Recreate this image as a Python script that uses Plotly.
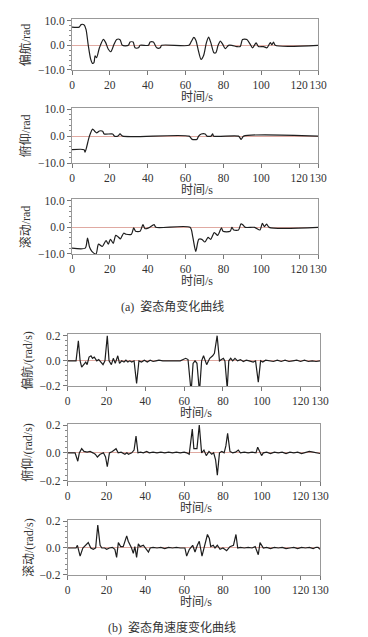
import plotly.graph_objects as go

# ---------------- data ----------------
# (a) attitude angles, rad
yaw_t = [0, 3.8, 4.8, 6.3, 7.4, 8.6, 9.9, 10.8, 11.6, 12.2, 13.0, 14.5, 16.6, 17.8, 19.2, 20.5,
         22.2, 23.6, 25.4, 26.6, 29.8, 30.7, 32.3, 33.3, 35.1, 36.0, 40.4, 41.3, 43.0, 44.8,
         46.6, 47.4, 61.8, 63.0, 64.4, 65.5, 66.6, 68.2, 69.6, 71.0, 72.2, 73.4, 75.0, 76.0,
         77.2, 78.4, 79.6, 81.0, 82.7, 84.5, 87.1, 88.9, 90.1, 92.4, 94.2, 95.4, 97.3, 98.5,
         101.2, 103.0, 104.8, 105.6, 106.5, 107.4, 130]
yaw_v = [7.4, 7.4, 8.4, 8.4, 6.5, 0, -5.7, -7.3, -7.0, -4.3, -5.0, -1.0, 2.4, 1.1, -1.6, -2.6,
         0.4, 2.4, 2.3, 0, 0, 1.35, 1.35, -1.0, -1.0, 0, 0, 1.35, 1.35, -1.0,
         -1.0, 0, 0, 1.5, 3.2, 2.0, -1.5, -5.7, -4.0, 1.0, 3.3, 1.0, -3.0, -3.0,
         0, 1.75, 0.5, -1.35, 0, 0, -0.5, -0.5, 2.4, 2.4, 0.4, -1.0, 1.0, -0.5,
         -0.5, -1.0, 1.1, 0.2, 1.35, 0, 0]

pitch_t = [0, 6.4, 6.9, 9.2, 10.9, 12.0, 13.0, 14.5, 16.2, 17.0, 21.5, 22.4, 24.2, 25.4, 26.8,
           61.9, 63.5, 66.0, 66.9, 68.3, 70.4, 71.3, 73.5, 74.3, 74.9, 88.0, 89.4, 90.7, 130]
pitch_v = [-5, -5, -5.9, 0, 2.6, 1.8, 1.2, 1.9, 1.8, 0.8, 0.8, 0, 0, 0.8, 0,
           0, -1.2, -1.2, 0, 0.8, 0.8, 0, 0, 0.8, 0, 0, -1.2, 0, 0]

roll_t = [0, 7.0, 8.2, 9.3, 10.5, 12.7, 14.0, 16.0, 18.0, 19.2, 20.3, 21.8, 23.1, 24.3, 25.6,
          27.3, 28.6, 31.4, 32.6, 33.6, 36.0, 37.5, 38.6, 40.5, 43.4, 44.3, 62.4, 63.8, 65.4,
          67.0, 68.6, 70.2, 71.9, 73.3, 75.2, 77.0, 79.0, 79.8, 83.6, 84.5, 85.5, 88.0, 89.3,
          90.5, 91.6, 96.5, 99.3, 100.6, 101.7, 102.8, 104.2, 130]
roll_v = [-7.8, -7.8, -4.0, -7.5, -9.0, -10.0, -6.3, -7.2, -5.0, -6.3, -4.5, -6.0, -3.0, -3.5, -4.3,
          -2.2, -2.6, -2.6, -0.2, -1.5, -1.5, 1.0, -0.5, -0.2, 1.0, 0, 0, -3.5, -9.0,
          -4.5, -4.5, -5.5, -3.8, -4.5, -2.0, -3.0, -0.2, -1.5, -1.5, 0, -1.0, -1.0, 1.3,
          0.8, 0, 0, -1.0, 1.5, 0.3, 1.2, 0, 0]

# (b) attitude angular rates, rad/s
yawr_t = [0, 4.3, 5.5, 6.4, 7.2, 8.2, 9.3, 10.0, 11.0, 12.0, 12.8, 13.7, 15.0, 16.0, 17.0, 18.2,
          19.2, 20.4, 21.3, 22.5, 23.5, 24.5, 25.8, 26.7, 27.8, 29.0, 30.0, 31.0, 32.0, 33.0,
          34.2, 35.5, 36.7, 38.0, 39.5, 41.0, 42.5, 44.0, 45.5, 47.0, 49.0, 52.0, 55.0, 58.0,
          60.8, 62.0, 63.6, 64.6, 65.6, 66.6, 67.9, 69.0, 70.0, 71.6, 73.2, 74.7, 75.6, 77.0,
          78.2, 79.2, 80.2, 81.0, 82.2, 83.0, 84.0, 85.0, 86.2, 87.5, 89.0, 90.5, 92.0, 93.5,
          95.6, 96.8, 98.2, 99.4, 100.5, 102.0, 104.0, 106.0, 108.0, 110.0, 112.0, 114.0, 116.0,
          118.0, 120.0, 122.0, 124.0, 126.0, 128.0, 130.0]
yawr_v = [0, 0, 0.16, 0.0, -0.05, -0.03, -0.01, -0.03, 0.03, 0.04, 0.02, 0.03, 0.0, 0.01, -0.01, -0.03,
          0.0, 0.2, 0.0, -0.03, 0.02, -0.02, 0.04, -0.02, 0.0, -0.01, 0.005, -0.01, 0.0, -0.01,
          0.0, -0.18, 0.0, -0.01, 0.005, -0.01, 0.005, -0.005, 0.0, 0.005, 0.0, 0.0, 0.0, 0.0,
          0.02, 0.01, -0.25, -0.02, 0.0, -0.02, -0.25, 0.0, 0.04, -0.03, 0.02, 0.04, 0.06, 0.2,
          0.0, 0.01, 0.02, 0.0, -0.22, 0.0, 0.02, 0.0, 0.02, 0.0, 0.01, -0.005, 0.005, 0.0,
          -0.01, 0.0, -0.17, 0.0, -0.01, 0.005, 0.0, -0.005, 0.005, -0.005, 0.005, -0.005, 0.0,
          0.005, -0.005, 0.005, -0.005, 0.0, -0.005, 0.0]

pitchr_t = [0, 3.8, 5.2, 6.0, 7.2, 8.4, 10.0, 11.5, 13.0, 14.2, 15.3, 16.7, 18.4, 19.5, 20.4, 21.5,
            23.0, 24.9, 26.0, 27.5, 29.5, 30.5, 31.3, 33.0, 34.2, 35.2, 36.2, 37.5, 39.0, 40.7,
            42.0, 44.0, 46.0, 48.0, 50.0, 52.0, 54.0, 56.0, 58.0, 60.0, 61.3, 62.6, 64.2, 65.0,
            66.6, 67.8, 69.0, 70.2, 71.4, 72.8, 74.2, 75.2, 76.2, 77.1, 78.2, 79.4, 80.6, 81.5,
            82.4, 83.6, 85.0, 86.5, 87.9, 89.0, 91.0, 93.0, 95.0, 97.0, 97.9, 98.8, 99.9, 100.8,
            102.5, 104.5, 106.5, 108.5, 110.5, 112.5, 114.5, 116.5, 118.5, 120.5, 122.5, 124.5,
            126.5, 128.0, 130.0]
pitchr_v = [0, 0, -0.06, 0.0, 0.03, 0.01, 0.005, 0.01, 0.0, -0.01, -0.03, -0.01, 0.0, -0.03, -0.1, 0.0,
            0.01, 0.03, 0.0, 0.005, -0.01, 0.0, -0.01, 0.0, 0.02, 0.12, 0.0, 0.005, 0.0, 0.01,
            0.0, 0.005, 0.0, 0.005, 0.0, 0.005, 0.0, 0.005, 0.0, 0.005, 0.0, -0.01, 0.17, 0.03,
            0.03, 0.2, 0.0, 0.02, -0.02, 0.01, -0.01, 0.0, -0.05, -0.16, 0.0, 0.01, 0.0, 0.05,
            0.14, 0.01, 0.0, 0.005, 0.02, 0.0, 0.005, 0.0, 0.005, 0.0, 0.04, 0.01, -0.02, 0.0,
            0.005, -0.005, 0.005, 0.0, 0.005, -0.005, 0.005, 0.0, 0.005, -0.005, 0.005, 0.01,
            0.005, 0.0, -0.005]

rollr_t = [0, 4.3, 5.0, 6.4, 7.8, 9.4, 10.6, 11.9, 13.2, 14.4, 15.5, 16.7, 17.6, 19.0, 20.1, 21.5,
           23.0, 24.3, 25.2, 26.1, 27.3, 28.6, 30.4, 31.2, 32.9, 33.8, 34.6, 35.5, 36.4, 37.3,
           39.0, 40.0, 41.6, 42.5, 44.0, 46.0, 48.0, 50.0, 52.0, 54.0, 56.0, 58.0, 60.4, 61.3,
           62.7, 64.4, 65.6, 66.8, 67.8, 69.2, 70.3, 72.0, 73.0, 73.7, 75.0, 75.9, 77.1, 78.5,
           80.0, 81.9, 83.6, 85.4, 86.7, 87.6, 89.0, 91.0, 93.0, 95.0, 96.6, 98.2, 99.1, 100.8,
           102.5, 104.5, 106.5, 108.5, 110.5, 112.5, 114.5, 116.5, 118.5, 120.5, 122.5, 124.5,
           126.5, 128.0, 129.0, 130.0]
rollr_v = [0, 0, 0.02, -0.06, 0.0, 0.02, 0.04, 0.0, -0.01, 0.0, 0.17, 0.02, 0.0, 0.0, -0.01, 0.0,
           0.005, -0.01, -0.07, 0.04, 0.01, 0.01, 0.09, 0.05, 0.0, -0.04, 0.01, -0.07, 0.03, 0.01,
           0.02, 0.0, -0.03, 0.0, 0.005, 0.0, 0.005, -0.005, 0.005, 0.0, 0.005, 0.0, 0.0, -0.06,
           -0.01, 0.02, -0.03, 0.02, 0.05, -0.06, 0.0, 0.1, 0.07, 0.01, 0.02, 0.0, 0.02, -0.01,
           0.0, -0.02, 0.01, 0.02, 0.1, 0.0, 0.005, 0.0, 0.005, 0.0, 0.01, -0.05, 0.04, 0.0,
           0.005, -0.005, 0.005, 0.0, 0.005, -0.005, 0.0, 0.005, -0.005, 0.005, 0.0, 0.005,
           -0.005, 0.005, 0.005, -0.01]

x_ticks = [0, 20, 40, 60, 80, 100, 120, 130]
angle_titles = ["偏航/rad", "俯仰/rad", "滚动/rad"]
rate_titles = ["偏航/(rad/s)", "俯仰/(rad/s)", "滚动/(rad/s)"]
x_title = "时间/s"
caption_a = "(a)  姿态角变化曲线"
caption_b = "(b)  姿态角速度变化曲线"

# ---------------- layout helpers ----------------
W, H = 368, 637
FONT = "'Liberation Serif', 'Times New Roman', 'Noto Sans CJK SC', serif"
TXT = "#333333"
LINE = "#1e1e1e"
TICKSIZE = 11.5

series = [
    (yaw_t, yaw_v, angle_titles[0], "spline"),
    (pitch_t, pitch_v, angle_titles[1], "spline"),
    (roll_t, roll_v, angle_titles[2], "spline"),
    (yawr_t, yawr_v, rate_titles[0], "linear"),
    (pitchr_t, pitchr_v, rate_titles[1], "linear"),
    (rollr_t, rollr_v, rate_titles[2], "linear"),
]
# pixel geometry: (left, right, y of top tick, y of bottom tick, top value, title x)
geom = [
    (72, 318, 20.7, 70.0, 10, 25),
    (72, 318, 109.0, 163.3, 10, 25),
    (72, 318, 200.7, 254.0, 10, 25),
    (67.7, 320, 335.7, 386.0, 0.2, 28),
    (67.7, 320, 425.0, 480.7, 0.2, 28),
    (67.7, 320, 521.0, 575.0, 0.2, 28),
]

fig = go.Figure()
annotations = []
layout = {}
for i, ((t, v, ytitle, shape), (xl, xr, ytp, ybp, top, tx)) in enumerate(zip(series, geom)):
    n = i + 1
    suffix = "" if n == 1 else str(n)
    fig.add_trace(go.Scatter(
        x=t, y=v, mode="lines", xaxis="x" + suffix, yaxis="y" + suffix,
        line=dict(color=LINE, width=1.2, shape=shape,
                  smoothing=0.7 if shape == "spline" else None),
        showlegend=False, hoverinfo="skip"))
    ppu = (ybp - ytp) / (2 * top)
    extra = 1.5 / ppu
    box_top = ytp - 1.5
    dom_y = [1 - ybp / H, 1 - box_top / H]
    dom_x = [xl / W, xr / W]
    dtick = top
    minor = 2 if top == 10 else 0.04
    layout["xaxis" + suffix] = dict(
        domain=dom_x, anchor="y" + suffix, range=[0, 130], automargin=False,
        tickvals=x_ticks, tickangle=0, ticks="outside", ticklen=4, tickcolor="#777",
        showline=True, linecolor="#999999", linewidth=1, mirror=True,
        showgrid=False, zeroline=False,
        tickfont=dict(family=FONT, size=TICKSIZE, color=TXT))
    layout["yaxis" + suffix] = dict(
        domain=dom_y, anchor="x" + suffix, range=[-top * 1.001, top + extra],
        automargin=False,
        tick0=0, dtick=dtick, tickformat=".1f", ticks="outside", ticklen=4,
        tickcolor="#777",
        minor=dict(dtick=minor, ticks="outside", ticklen=2, tickcolor="#888"),
        showline=True, linecolor="#999999", linewidth=1, mirror=True,
        showgrid=False, zeroline=True, zerolinecolor="#e0aaa2", zerolinewidth=1,
        tickfont=dict(family=FONT, size=TICKSIZE, color=TXT))
    # y title
    annotations.append(dict(
        x=tx / W, y=1 - ((ytp + ybp) / 2) / H, xref="paper", yref="paper",
        text=ytitle, textangle=-90, showarrow=False,
        font=dict(family=FONT, size=12, color=TXT),
        xanchor="center", yanchor="middle"))
    # x title
    annotations.append(dict(
        x=((xl + xr) / 2 + 2) / W, y=1 - (ybp + 19) / H, xref="paper", yref="paper",
        text=x_title, showarrow=False, borderpad=0,
        font=dict(family=FONT, size=12, color=TXT),
        xanchor="center", yanchor="top"))

annotations.append(dict(x=172 / W, y=1 - 307 / H, xref="paper", yref="paper",
                        text=caption_a, showarrow=False,
                        font=dict(family=FONT, size=12, color=TXT),
                        xanchor="center", yanchor="middle"))
annotations.append(dict(x=172 / W, y=1 - 627 / H, xref="paper", yref="paper",
                        text=caption_b, showarrow=False,
                        font=dict(family=FONT, size=12, color=TXT),
                        xanchor="center", yanchor="middle"))

fig.update_layout(
    width=W, height=H, margin=dict(l=0, r=0, t=0, b=0),
    paper_bgcolor="white", plot_bgcolor="white",
    font=dict(family=FONT, size=12, color=TXT),
    annotations=annotations, **layout)

fig.write_html("out.html", config={"displayModeBar": False},
               post_script="document.body.style.margin='0';document.body.style.padding='0';")
